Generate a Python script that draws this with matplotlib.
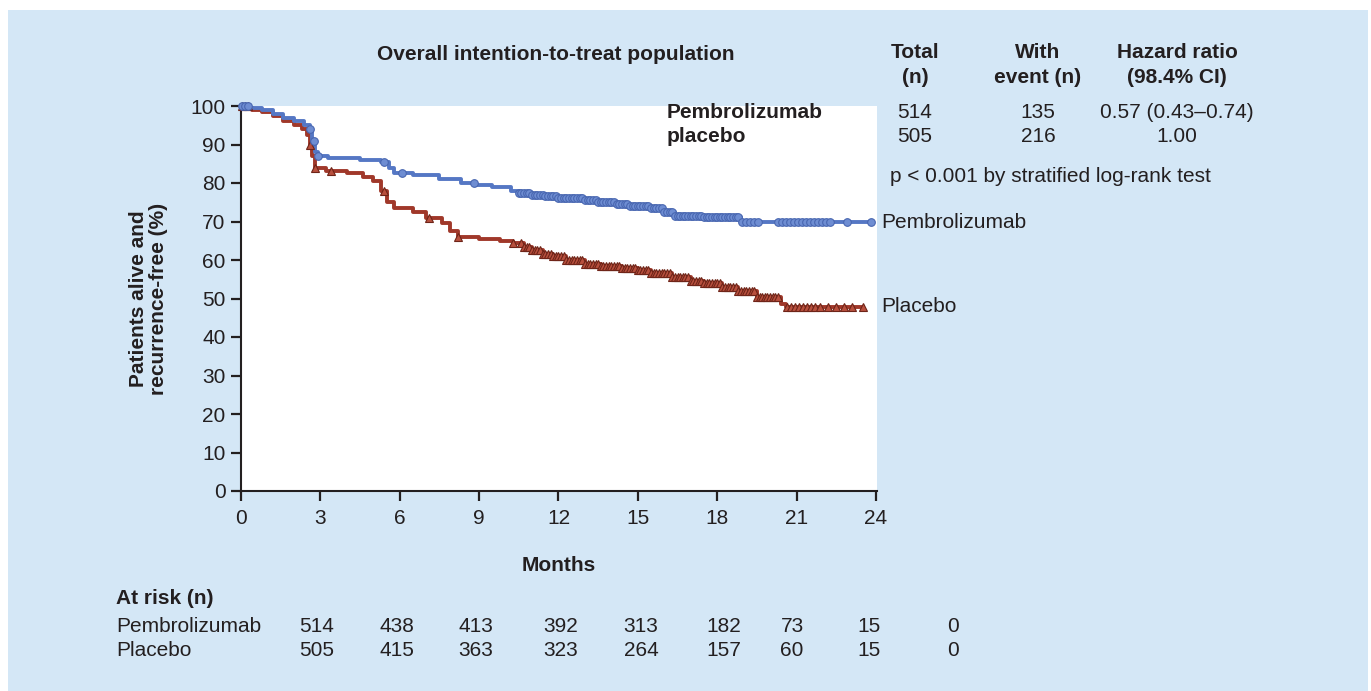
import matplotlib
matplotlib.use("Agg")
import matplotlib.pyplot as plt
from matplotlib.patches import Rectangle

plt.rcParams['font.family'] = ['Liberation Sans', 'DejaVu Sans']

# ---------------- data ----------------
months_ticks = [0, 3, 6, 9, 12, 15, 18, 21, 24]
pct_ticks = [0, 10, 20, 30, 40, 50, 60, 70, 80, 90, 100]

pem_t = [0, 0.3, 0.8, 1.2, 1.6, 2.0, 2.4, 2.6, 2.7, 2.8, 2.9, 3.3, 4.5, 5.3, 5.6, 5.8,
         6.5, 7.5, 8.3, 8.9, 9.5, 10.2, 10.5, 11.0, 11.5, 12.0, 13.0, 13.5, 14.2, 14.7,
         15.5, 16.0, 16.4, 17.5, 18.9, 23.8]
pem_s = [100, 99.5, 99, 98, 97, 96, 95, 94, 91, 88, 87, 86.5, 86, 85.5, 84, 82.5,
         82, 81, 80, 79.5, 79, 78, 77.5, 77, 76.5, 76, 75.5, 75, 74.5, 74,
         73.5, 72.5, 71.5, 71.2, 70.0, 70.0]
pem_cens = [0.05, 0.15, 0.25, 2.62, 2.75, 2.9, 5.4, 6.1, 8.8,
            10.5, 10.6, 10.7, 10.8, 10.9, 11.0, 11.1, 11.2, 11.3, 11.4, 11.5, 11.6, 11.7,
            11.8, 11.9, 12.0, 12.1, 12.2, 12.3, 12.4, 12.5, 12.6, 12.7, 12.8, 12.9, 13.0,
            13.1, 13.2, 13.3, 13.4, 13.5, 13.6, 13.7, 13.8, 13.9, 14.0, 14.1, 14.2, 14.3,
            14.4, 14.5, 14.6, 14.7, 14.8, 14.9, 15.0, 15.1, 15.2, 15.3, 15.4, 15.5, 15.6,
            15.7, 15.8, 15.9, 16.0, 16.1, 16.2, 16.3, 16.4, 16.5, 16.6, 16.7, 16.8, 16.9,
            17.0, 17.1, 17.2, 17.3, 17.4, 17.5, 17.6, 17.7, 17.8, 17.9, 18.0, 18.1, 18.2,
            18.3, 18.4, 18.5, 18.6, 18.7, 18.8, 18.95, 19.1, 19.25, 19.4, 19.55,
            20.3, 20.45, 20.6, 20.75, 20.9, 21.05, 21.2, 21.35, 21.5, 21.65, 21.8, 21.95,
            22.1, 22.25, 22.9, 23.8]

pla_t = [0, 0.4, 0.8, 1.2, 1.6, 2.0, 2.3, 2.5, 2.6, 2.7, 2.8, 3.2, 4.0, 4.6, 5.0, 5.3,
         5.5, 5.8, 6.5, 7.0, 7.6, 7.9, 8.2, 9.0, 9.8, 10.3, 10.7, 11.0, 11.4, 11.8,
         12.3, 13.0, 13.6, 14.4, 15.0, 15.5, 16.3, 17.0, 17.5, 18.2, 18.8, 19.5, 20.4,
         20.6, 23.5]
pla_s = [100, 99, 98.5, 97.5, 96, 95, 94, 92.5, 90, 87, 84, 83, 82.5, 81.5, 80.5, 78,
         75, 73.5, 72.5, 71, 69.5, 67.5, 66, 65.5, 65, 64.5, 63.5, 62.5, 61.5, 61,
         60, 59, 58.5, 58, 57.5, 56.5, 55.5, 54.5, 54, 53, 52, 50.5, 48.5,
         47.8, 47.8]
pla_cens = [0.05, 0.15, 0.25, 2.6, 2.8, 3.4, 5.4, 7.1, 8.2, 10.3,
            10.6, 10.7, 10.8, 10.9, 11.0, 11.1, 11.2, 11.3, 11.4, 11.5, 11.6, 11.7, 11.8,
            11.9, 12.0, 12.1, 12.2, 12.3, 12.4, 12.5, 12.6, 12.7, 12.8, 12.9, 13.0, 13.1,
            13.2, 13.3, 13.4, 13.5, 13.6, 13.7, 13.8, 13.9, 14.0, 14.1, 14.2, 14.3, 14.4,
            14.5, 14.6, 14.7, 14.8, 14.9, 15.0, 15.1, 15.2, 15.3, 15.4, 15.5, 15.6, 15.7,
            15.8, 15.9, 16.0, 16.1, 16.2, 16.3, 16.4, 16.5, 16.6, 16.7, 16.8, 16.9, 17.0,
            17.1, 17.2, 17.3, 17.4, 17.5, 17.6, 17.7, 17.8, 17.9, 18.0, 18.1, 18.2, 18.3,
            18.4, 18.5, 18.6, 18.7, 18.8, 18.9, 19.0, 19.1, 19.2, 19.3, 19.4, 19.5, 19.6,
            19.7, 19.8, 19.9, 20.0, 20.1, 20.2, 20.3, 20.65, 20.8, 20.95, 21.1, 21.25,
            21.4, 21.55, 21.7, 21.9, 22.2, 22.5, 22.8, 23.1, 23.5]

groups = ["Pembrolizumab", "placebo"]
total_n = [514, 505]
event_n = [135, 216]
hazard = ["0.57 (0.43\u20130.74)", "1.00"]

risk_labels = ["Pembrolizumab", "Placebo"]
risk_pem = [514, 438, 413, 392, 313, 182, 73, 15, 0]
risk_pla = [505, 415, 363, 323, 264, 157, 60, 15, 0]

# ---------------- helpers ----------------
W, H = 1371, 691
def fx(px):
    return px / W
def fy(py):
    return 1 - py / H

def surv_at(ts, ss, t):
    v = ss[0]
    for ti, si in zip(ts, ss):
        if ti <= t:
            v = si
        else:
            break
    return v

FS = 15
TXT = '#231f20'
BLUE = '#5577c4'
BLUE_FACE = '#6e8dd2'
BLUE_EDGE = '#4866b0'
RED = '#a0382a'
RED_FACE = '#b8503e'
RED_EDGE = '#6e2418'

fig = plt.figure(figsize=(W / 100, H / 100), dpi=100)
fig.patch.set_facecolor('white')
fig.patches.append(Rectangle((fx(8), 0), fx(1368) - fx(8), fy(10), transform=fig.transFigure,
                             facecolor='#d4e7f6', edgecolor='none', zorder=-10))

ax = fig.add_axes([fx(241), fy(491), fx(877) - fx(241), fy(106) - fy(491)])
ax.set_facecolor('white')
ax.set_xlim(0, 24.04)
ax.set_ylim(0, 100)
for s in ['top', 'right']:
    ax.spines[s].set_visible(False)
for s in ['left', 'bottom']:
    ax.spines[s].set_color(TXT)
    ax.spines[s].set_linewidth(1.5)
ax.set_xticks(months_ticks)
ax.set_yticks(pct_ticks)
ax.tick_params(axis='both', direction='out', length=7, width=1.6, color=TXT,
               labelsize=FS, labelcolor=TXT)
ax.tick_params(axis='x', pad=6)
ax.tick_params(axis='y', pad=4)
ax.set_xlabel("Months", fontsize=FS, fontweight='bold', color=TXT, labelpad=20)
ax.set_ylabel("Patients alive and\nrecurrence-free (%)", fontsize=FS, fontweight='bold',
              color=TXT, labelpad=16, linespacing=1.1)

# curves
ax.step(pla_t, pla_s, where='post', color=RED, lw=2.8, zorder=3)
ax.step(pem_t, pem_s, where='post', color=BLUE, lw=2.8, zorder=4)
ax.plot(pla_cens, [surv_at(pla_t, pla_s, t) for t in pla_cens], linestyle='none',
        marker='^', markersize=6, markerfacecolor=RED_FACE, markeredgecolor=RED_EDGE,
        markeredgewidth=0.8, zorder=5, clip_on=False)
ax.plot(pem_cens, [surv_at(pem_t, pem_s, t) for t in pem_cens], linestyle='none',
        marker='o', markersize=5.5, markerfacecolor=BLUE_FACE, markeredgecolor=BLUE_EDGE,
        markeredgewidth=0.8, zorder=6, clip_on=False)

# end labels
fig.text(fx(881), fy(222), "Pembrolizumab", fontsize=FS, color=TXT, va='center', ha='left')
fig.text(fx(881), fy(306), "Placebo", fontsize=FS, color=TXT, va='center', ha='left')

# header table
fig.text(fx(556), fy(55), "Overall intention-to-treat population", fontsize=FS,
         fontweight='bold', color=TXT, ha='center', va='center')
cols_x = [915, 1038, 1177]
heads = ["Total\n(n)", "With\nevent (n)", "Hazard ratio\n(98.4% CI)"]
for cx, h in zip(cols_x, heads):
    fig.text(fx(cx), fy(65), h, fontsize=FS, fontweight='bold', color=TXT,
             ha='center', va='center', linespacing=1.45)
rows_y = [113, 137]
for ry, g, tn, en, hz in zip(rows_y, groups, total_n, event_n, hazard):
    fig.text(fx(667), fy(ry), g, fontsize=FS, fontweight='bold', color=TXT, ha='left', va='center')
    fig.text(fx(cols_x[0]), fy(ry), str(tn), fontsize=FS, color=TXT, ha='center', va='center')
    fig.text(fx(cols_x[1]), fy(ry), str(en), fontsize=FS, color=TXT, ha='center', va='center')
    fig.text(fx(cols_x[2]), fy(ry), hz, fontsize=FS, color=TXT, ha='center', va='center')
fig.text(fx(890), fy(177), "p < 0.001 by stratified log-rank test", fontsize=FS, color=TXT,
         ha='left', va='center')

# at risk table
fig.text(fx(116), fy(598), "At risk (n)", fontsize=FS, fontweight='bold', color=TXT,
         ha='left', va='center')
risk_x = [317, 397, 476, 561, 641, 724, 792, 869, 953]
for ry, lab, vals in zip([626, 650], risk_labels, [risk_pem, risk_pla]):
    fig.text(fx(116), fy(ry), lab, fontsize=FS, color=TXT, ha='left', va='center')
    for rx, v in zip(risk_x, vals):
        fig.text(fx(rx), fy(ry), str(v), fontsize=FS, color=TXT, ha='center', va='center')

fig.savefig("out.png", dpi=100, facecolor=fig.get_facecolor())
